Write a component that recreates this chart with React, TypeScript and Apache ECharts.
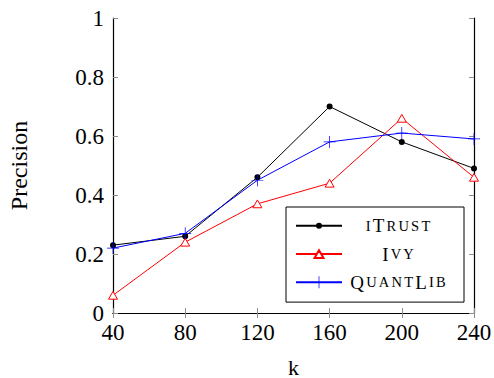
import React, { useEffect, useRef } from "react";
import * as echarts from "echarts";

const kValues = [40, 80, 120, 160, 200, 240];
const iTrust = [0.23, 0.26, 0.46, 0.7, 0.58, 0.49];
const ivy = [0.06, 0.24, 0.37, 0.44, 0.66, 0.46];
const quantLib = [0.22, 0.27, 0.45, 0.58, 0.61, 0.59];
const seriesNames = ["iTrust", "Ivy", "QuantLib"];

const FONT = "Liberation Serif";

// small caps: capitals keep full size, lower-case letters become small capitals
const smallCaps = (name: string) =>
  name
    .split("")
    .map((ch) => (ch === ch.toUpperCase() ? "{b|" + ch + "}" : "{s|" + ch.toUpperCase() + "}"))
    .join("");

// marker shapes drawn in a 20x20 box (corner points keep the box size)
const BOX = "M0,0L0.01,0ZM20,20L19.99,20Z";
const DOT = "path://" + BOX + "M15,10A5,5,0,1,1,5,10A5,5,0,1,1,15,10Z";
const TRI = "path://" + BOX + "M10,3.5L17.5,16.5L2.5,16.5Z";
const PLUS = "path://M9.4,0H10.6V9.4H20V10.6H10.6V20H9.4V10.6H0V9.4H9.4Z";

export default function App() {
  const ref = useRef<HTMLDivElement>(null);
  useEffect(() => {
    if (!ref.current) return;
    const chart = echarts.init(ref.current, undefined, { renderer: "svg" });
    const pair = (ys: number[]) => kValues.map((k, i) => [k, ys[i]]);
    const tick = { show: true, inside: true, length: 5, lineStyle: { color: "#8c8c8c", width: 1 } };
    const axisLine = { show: true, lineStyle: { color: "#000", width: 1.2 } };
    const richLabel = { t: { fontFamily: FONT, fontSize: 23, color: "#000" } };
    chart.setOption({
      animation: false,
      backgroundColor: "#fff",
      textStyle: { fontFamily: FONT },
      grid: { left: 113, right: 20, top: 18, bottom: 65, outerBoundsMode: "none", containLabel: false },
      xAxis: [
        {
          type: "value",
          min: 40,
          max: 240,
          interval: 40,
          name: "k",
          nameLocation: "middle",
          nameGap: 46,
          nameTextStyle: { fontFamily: FONT, fontSize: 22, color: "#000", lineHeight: 16 },
          axisLine,
          axisTick: tick,
          axisLabel: {
            fontFamily: FONT,
            fontSize: 23,
            color: "#000",
            margin: 8,
            formatter: (v: number) => "{t|" + v + "}",
            rich: richLabel,
          },
          splitLine: { show: false },
        },
        {
          type: "value",
          min: 40,
          max: 240,
          interval: 40,
          position: "top",
          axisLine,
          axisTick: tick,
          axisLabel: { show: false },
          splitLine: { show: false },
        },
      ],
      yAxis: [
        {
          type: "value",
          min: 0,
          max: 1,
          interval: 0.2,
          name: "Precision",
          nameLocation: "middle",
          nameGap: 82,
          nameTextStyle: { fontFamily: FONT, fontSize: 24, color: "#000" },
          axisLine,
          axisTick: tick,
          axisLabel: {
            fontFamily: FONT,
            fontSize: 23,
            color: "#000",
            margin: 9,
            formatter: (v: number) => "{t|" + String(+v.toFixed(1)) + "}",
            rich: richLabel,
          },
          splitLine: { show: false },
        },
        {
          type: "value",
          min: 0,
          max: 1,
          interval: 0.2,
          position: "right",
          axisLine,
          axisTick: tick,
          axisLabel: { show: false },
          splitLine: { show: false },
        },
      ],
      legend: {
        orient: "vertical",
        left: 286,
        top: 207,
        data: seriesNames,
        itemWidth: 46,
        itemHeight: 15,
        itemGap: 9.2,
        padding: [9.35, 15, 10.35, 9],
        borderColor: "#000",
        borderWidth: 1,
        backgroundColor: "#fff",
        formatter: (name: string) => smallCaps(name),
        textStyle: {
          width: 102,
          lineHeight: 15,
          rich: {
            b: { fontFamily: FONT, fontSize: 19, color: "#000", lineHeight: 15, align: "center", padding: [0, 1.1, 0, 1.1] },
            s: { fontFamily: FONT, fontSize: 14.5, color: "#000", lineHeight: 15, align: "center", padding: [0, 1.1, 0, 1.1] },
          },
        },
      },
      series: [
        {
          name: "iTrust",
          type: "line",
          data: pair(iTrust),
          symbol: DOT,
          symbolSize: 12,
          lineStyle: { color: "#000", width: 1 },
          itemStyle: { color: "#000" },
        },
        {
          name: "Ivy",
          type: "line",
          data: pair(ivy),
          symbol: TRI,
          symbolSize: 12,
          lineStyle: { color: "#ff0000", width: 1 },
          itemStyle: { color: "#fff", borderColor: "#ff0000", borderWidth: 1 },
        },
        {
          name: "QuantLib",
          type: "line",
          data: pair(quantLib),
          symbol: PLUS,
          symbolSize: 12,
          lineStyle: { color: "#0000ff", width: 1 },
          itemStyle: { color: "#0000ff" },
        },
      ],
    });
    return () => chart.dispose();
  }, []);
  return <div ref={ref} style={{ width: 494, height: 378, position: "absolute", left: 0, top: 0 }} />;
}
